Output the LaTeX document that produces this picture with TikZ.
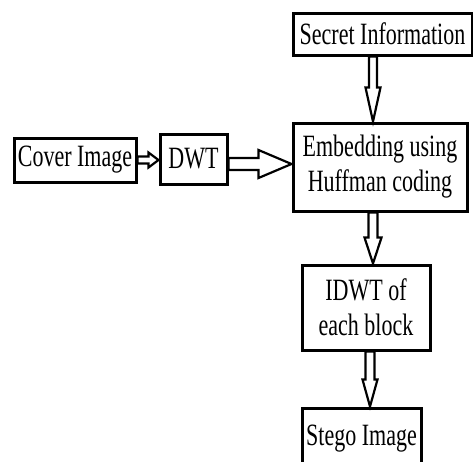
\documentclass[tikz,border=0pt]{standalone}
\usepackage{fontspec}
\setmainfont{Liberation Serif}[FakeStretch=0.71]
\usetikzlibrary{calc}
\tikzset{
	box/.style={draw, line width=3pt, inner sep=0pt, align=center, font=\fontsize{31}{35}\selectfont},
	link/.style={line width=2.2pt, line join=miter},
	harrow/.style n args={3}{to path={let \p1=(\tikztostart), \p2=(\tikztotarget) in
		(\x1,\y1-#1) -- (\x2-#3,\y1-#1) -- (\x2-#3,\y1-#2) -- (\x2,\y1) -- (\x2-#3,\y1+#2) -- (\x2-#3,\y1+#1) -- (\x1,\y1+#1) -- cycle}},
	varrow/.style n args={3}{to path={let \p1=(\tikztostart), \p2=(\tikztotarget) in
		(\x1-#1,\y1) -- (\x1-#1,\y2+#3) -- (\x1-#2,\y2+#3) -- (\x1,\y2) -- (\x1+#2,\y2+#3) -- (\x1+#1,\y2+#3) -- (\x1+#1,\y1) -- cycle}}
}

\begin{document}
\begin{tikzpicture}[x=1pt,y=-1pt]
	\useasboundingbox (0,0) rectangle (473,461);

	\node[box, minimum width=122pt, minimum height=44pt] (cover) at (75,160) {Cover Image};
	\node[box, minimum width=67pt, minimum height=50pt] (dwt) at (193.5,159) {DWT};
	\node[box, minimum width=179pt, minimum height=42pt] (secret) at (382.5,34) {Secret Information};
	\node[box, minimum width=174pt, minimum height=88pt] (embed) at (380,167) {Embedding using\\Huffman coding};
	\node[box, minimum width=128pt, minimum height=85pt] (idwt) at (366,307.5) {IDWT of\\each block};
	\node[box, minimum width=119pt, minimum height=62pt] (stego) at (361.5,439) {Stego Image};

	\coordinate (row) at (0,164);
	\coordinate (col) at (373,0);
	\coordinate (col2) at (370,0);

	\draw[link] (cover.east) to[harrow={3.5pt}{7.5pt}{10pt}] (dwt.west);
	\draw[link] (dwt.east |- row) to[harrow={6pt}{14pt}{33pt}] (embed.west |- row);
	\draw[link] (secret.south -| col) to[varrow={4pt}{7.5pt}{34pt}] (embed.north -| col);
	\draw[link] (embed.south -| col) to[varrow={4.5pt}{8.5pt}{26pt}] (idwt.north -| col);
	\draw[link] (idwt.south -| col2) to[varrow={4.5pt}{7.5pt}{27pt}] (stego.north -| col2);
\end{tikzpicture}
\end{document}
